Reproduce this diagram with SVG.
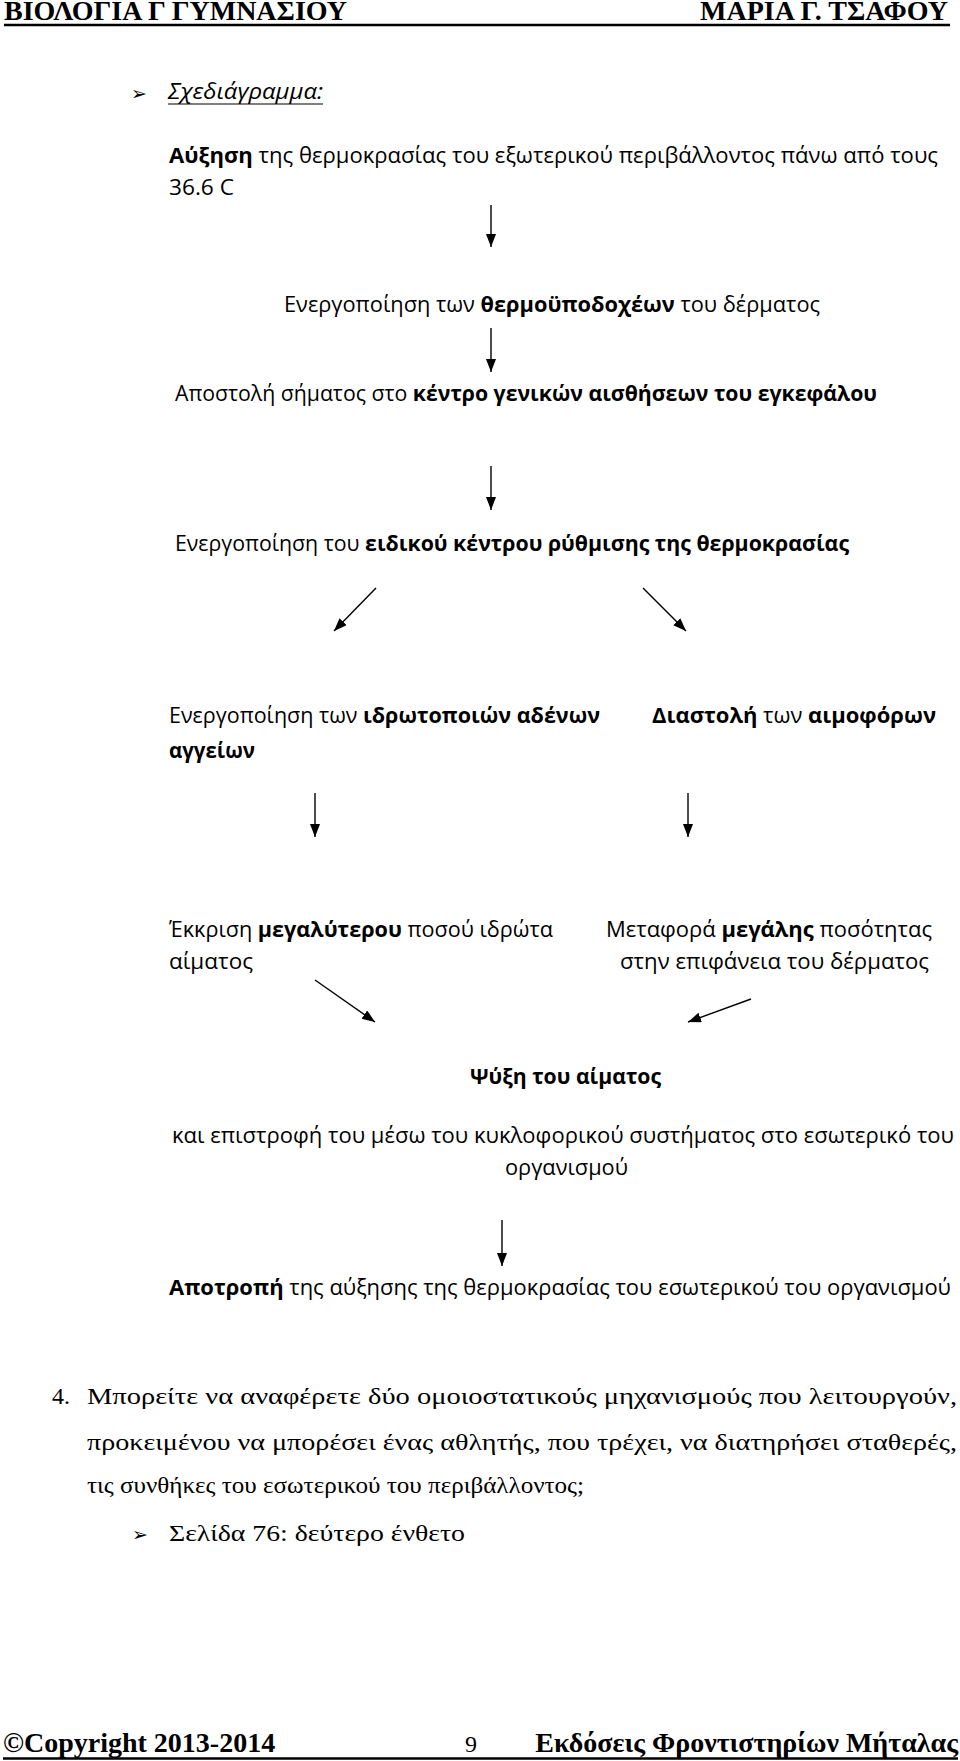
<svg xmlns="http://www.w3.org/2000/svg" width="960" height="1761" viewBox="0 0 960 1761">
<style>
.hdr{font-family:"Liberation Serif","Times New Roman",serif;font-weight:bold;font-size:28px;fill:#000}
.b{font-family:"Open Sans","Noto Sans",sans-serif;font-size:22px;fill:#000}
.t{font-family:"Liberation Serif","Times New Roman",serif;font-size:24px;fill:#000}
.sym{font-family:"DejaVu Sans",sans-serif;font-size:19px;fill:#000}
.bold{font-weight:bold}
.rule{stroke:#000;stroke-width:2.6}
.conn line{stroke:#000;stroke-width:1.4;marker-end:url(#ah)}
</style>
<defs>
<marker id="ah" markerUnits="userSpaceOnUse" markerWidth="14" markerHeight="12" refX="13" refY="5" orient="auto">
<path d="M0,0 L13,5 L0,10 Z" fill="#000"/>
</marker>
</defs>
<rect width="960" height="1761" fill="#fff"/>

<g id="header">
<text class="hdr" x="4" y="20">ΒΙΟΛΟΓΙΑ Γ ΓΥΜΝΑΣΙΟΥ</text>
<text class="hdr" x="948" y="20" text-anchor="end">ΜΑΡΙΑ Γ. ΤΣΑΦΟΥ</text>
<line class="rule" x1="4" y1="25" x2="950" y2="25"/>
</g>

<g id="title">
<text class="sym" x="131" y="100">➢</text>
<text class="b" x="168" y="99" font-style="italic" textLength="155" lengthAdjust="spacingAndGlyphs">Σχεδιάγραμμα:</text>
<line x1="168" y1="104" x2="323" y2="104" stroke="#000" stroke-width="1.2"/>
</g>

<g id="n1">
<text class="b" x="169" y="163" textLength="769" lengthAdjust="spacingAndGlyphs"><tspan class="bold">Αύξηση</tspan> της θερμοκρασίας του εξωτερικού περιβάλλοντος πάνω από τους</text>
<text class="b" x="169" y="195" textLength="65" lengthAdjust="spacingAndGlyphs">36.6 C</text>
</g>

<g id="n2">
<text class="b" x="284" y="312" textLength="536" lengthAdjust="spacingAndGlyphs">Ενεργοποίηση των <tspan class="bold">θερμοϋποδοχέων</tspan> του δέρματος</text>
</g>

<g id="n3">
<text class="b" x="175" y="401" textLength="702" lengthAdjust="spacingAndGlyphs">Αποστολή σήματος στο <tspan class="bold">κέντρο γενικών αισθήσεων του εγκεφάλου</tspan></text>
</g>

<g id="n4">
<text class="b" x="175" y="551" textLength="674" lengthAdjust="spacingAndGlyphs">Ενεργοποίηση του <tspan class="bold">ειδικού κέντρου ρύθμισης της θερμοκρασίας</tspan></text>
</g>

<g id="n5">
<text class="b" x="169" y="723" textLength="431" lengthAdjust="spacingAndGlyphs">Ενεργοποίηση των <tspan class="bold">ιδρωτοποιών αδένων</tspan></text>
</g>

<g id="n6">
<text class="b" x="652" y="723" textLength="284" lengthAdjust="spacingAndGlyphs"><tspan class="bold">Διαστολή</tspan> των <tspan class="bold">αιμοφόρων</tspan></text>
<text class="b bold" x="169" y="758" textLength="86" lengthAdjust="spacingAndGlyphs">αγγείων</text>
</g>

<g id="n7">
<text class="b" x="169" y="937" textLength="384" lengthAdjust="spacingAndGlyphs">Έκκριση <tspan class="bold">μεγαλύτερου</tspan> ποσού ιδρώτα</text>
</g>

<g id="n8">
<text class="b" x="606" y="937" textLength="326" lengthAdjust="spacingAndGlyphs">Μεταφορά <tspan class="bold">μεγάλης</tspan> ποσότητας</text>
<text class="b" x="620" y="969" textLength="309" lengthAdjust="spacingAndGlyphs">στην επιφάνεια του δέρματος</text>
<text class="b" x="169" y="969" textLength="84" lengthAdjust="spacingAndGlyphs">αίματος</text>
</g>

<g id="n9">
<text class="b bold" x="470" y="1084" textLength="191" lengthAdjust="spacingAndGlyphs">Ψύξη του αίματος</text>
<text class="b" x="172" y="1143" textLength="782" lengthAdjust="spacingAndGlyphs">και επιστροφή του μέσω του κυκλοφορικού συστήματος στο εσωτερικό του</text>
<text class="b" x="505" y="1175" textLength="123" lengthAdjust="spacingAndGlyphs">οργανισμού</text>
</g>

<g id="n10">
<text class="b" x="169" y="1295" textLength="782" lengthAdjust="spacingAndGlyphs"><tspan class="bold">Αποτροπή</tspan> της αύξησης της θερμοκρασίας του εσωτερικού του οργανισμού</text>
</g>

<g id="connectors" class="conn">
<line x1="491" y1="205" x2="491" y2="247"/>
<line x1="491" y1="328" x2="491" y2="372"/>
<line x1="491" y1="466" x2="491" y2="510"/>
<line x1="376" y1="588" x2="334" y2="631"/>
<line x1="643" y1="588" x2="686" y2="631"/>
<line x1="315" y1="793" x2="315" y2="837"/>
<line x1="688" y1="793" x2="688" y2="837"/>
<line x1="315" y1="980" x2="375" y2="1022"/>
<line x1="751" y1="999" x2="688" y2="1022"/>
<line x1="502" y1="1220" x2="502" y2="1266"/>
</g>

<g id="question">
<text class="t" x="52" y="1404">4.</text>
<text class="t" x="87" y="1404" textLength="870" lengthAdjust="spacingAndGlyphs">Μπορείτε να αναφέρετε δύο ομοιοστατικούς μηχανισμούς που λειτουργούν,</text>
<text class="t" x="87" y="1450" textLength="870" lengthAdjust="spacingAndGlyphs">προκειμένου να μπορέσει ένας αθλητής, που τρέχει, να διατηρήσει σταθερές,</text>
<text class="t" x="87" y="1493" textLength="497" lengthAdjust="spacingAndGlyphs">τις συνθήκες του εσωτερικού του περιβάλλοντος;</text>
<text class="sym" x="132" y="1541">➢</text>
<text class="t" x="169" y="1541" textLength="296" lengthAdjust="spacingAndGlyphs">Σελίδα 76: δεύτερο ένθετο</text>
</g>

<g id="footer">
<text class="hdr" x="3" y="1752">©Copyright 2013-2014</text>
<text class="t" x="465" y="1752" font-size="27">9</text>
<text class="hdr" x="958" y="1752" text-anchor="end">Εκδόσεις Φροντιστηρίων Μήταλας</text>
<line class="rule" x1="3" y1="1758.5" x2="958" y2="1758.5"/>
</g>
</svg>
